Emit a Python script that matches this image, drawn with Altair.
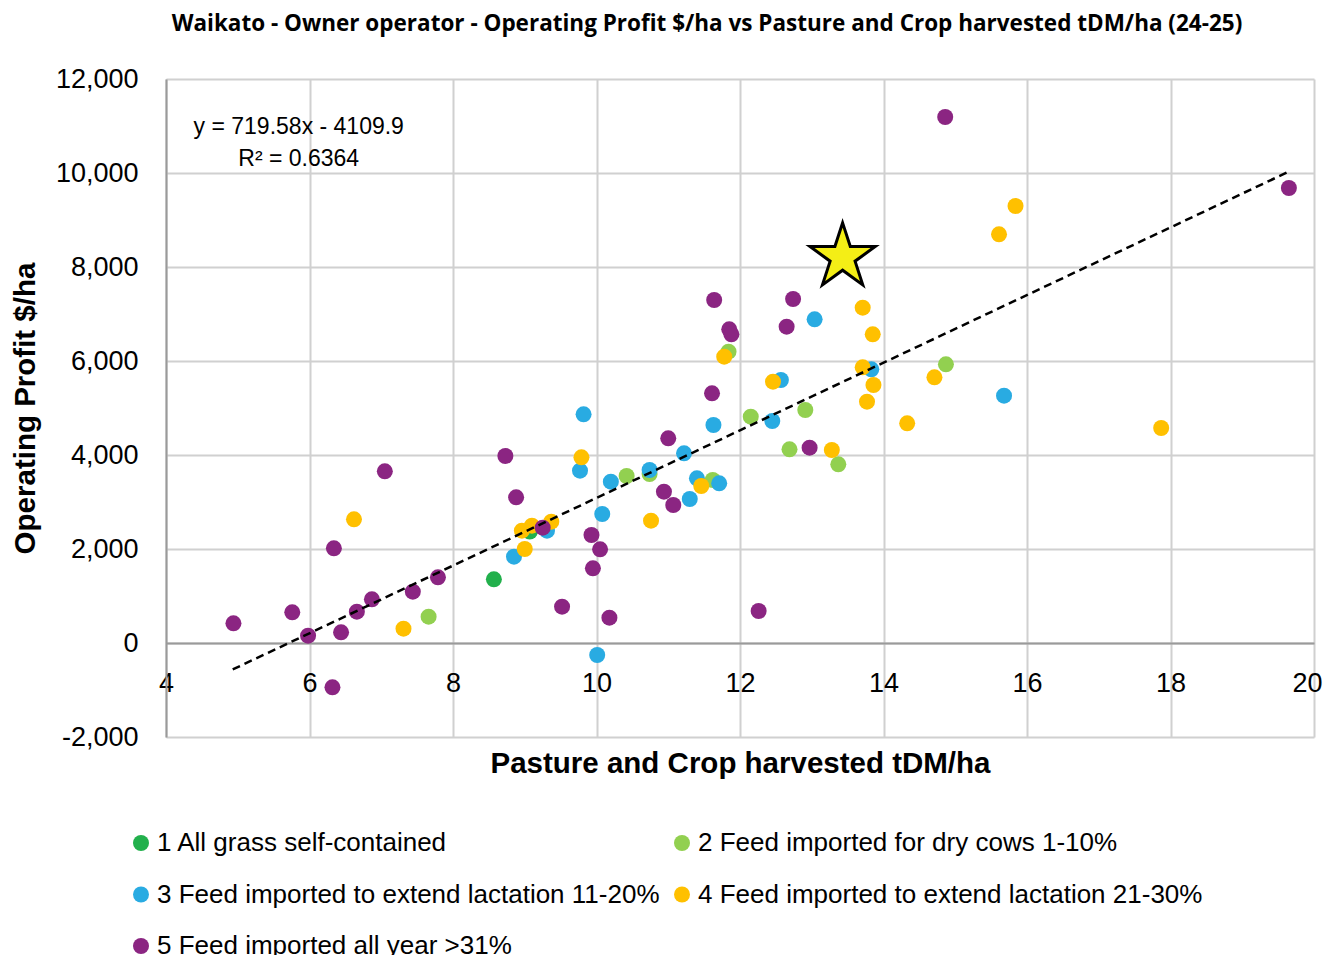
import altair as alt
import pandas as pd

# ---------------- data ----------------
groups = [
    "1 All grass self-contained",
    "2 Feed imported for dry cows 1-10%",
    "3 Feed imported to extend lactation 11-20%",
    "4 Feed imported to extend lactation 21-30%",
    "5 Feed imported all year >31%",
]
colors = ["#22b04c", "#92d050", "#29abe2", "#ffc000", "#8b2582"]
sizes = [256, 256, 256, 256, 350]

g1_x = [8.57, 9.07]
g1_y = [1355, 2370]

g2_x = [7.66, 10.42, 10.74, 11.62, 11.84, 12.15, 12.91, 12.69, 13.37, 14.87]
g2_y = [560, 3553, 3596, 3468, 6198, 4815, 4957, 4121, 3802, 5930]

g3_x = [8.85, 9.31, 9.82, 9.77, 10.01, 10.08, 10.20, 10.74, 11.22, 11.30,
        11.40, 11.71, 11.63, 13.04, 13.83, 12.57, 12.45, 15.68]
g3_y = [1837, 2390, 4865, 3666, -255, 2745, 3433, 3681, 4035, 3064,
        3504, 3397, 4638, 6887, 5823, 5596, 4723, 5262]

g4_x = [6.62, 7.31, 9.00, 8.96, 9.10, 9.37, 9.79, 10.76, 11.46, 11.78, 12.46,
        13.71, 13.85, 13.71, 13.86, 13.77, 13.28, 14.71, 14.33, 15.84, 15.61, 17.87]
g4_y = [2632, 305, 2000, 2390, 2496, 2582, 3951, 2603, 3340, 6092, 5560,
        7134, 6568, 5866, 5489, 5134, 4106, 5653, 4674, 9298, 8696, 4574]

g5_x = [4.94, 5.76, 5.98, 6.44, 6.66, 6.87, 7.44, 7.79, 6.34, 7.05, 6.32,
        8.73, 8.88, 9.25, 9.93, 10.05, 9.95, 9.52, 10.18, 11.00, 10.94, 11.07,
        11.61, 11.64, 11.85, 11.88, 12.74, 12.65, 12.97, 12.26, 14.86, 19.65]
g5_y = [419, 653, 155, 227, 667, 929, 1092, 1397, 2014, 3652, -943,
        3979, 3100, 2454, 2298, 1993, 1589, 773, 539, 4355, 3220, 2936,
        5312, 7298, 6674, 6568, 7319, 6730, 4155, 681, 11191, 9681]

star_x = [13.43]
star_y = [8210]

slope = 719.58
intercept = -4109.9
trend_x = [4.93, 19.68]

eq_lines = ["y = 719.58x - 4109.9", "R² = 0.6364"]
eq_x = [5.85, 5.85]
eq_y = [10979, 10298]

x_ticks = [4, 6, 8, 10, 12, 14, 16, 18, 20]
y_ticks = [-2000, 0, 2000, 4000, 6000, 8000, 10000, 12000]

title_text = "Waikato - Owner operator - Operating Profit $/ha vs Pasture and Crop harvested tDM/ha (24-25)"

# ---------------- tables ----------------
rows = []
for gi, (name, xs, ys) in enumerate(zip(groups, [g1_x, g2_x, g3_x, g4_x, g5_x],
                                         [g1_y, g2_y, g3_y, g4_y, g5_y])):
    for x, y in zip(xs, ys):
        rows.append({"x": x, "y": y, "group": name, "gi": gi})
df = pd.DataFrame(rows)

trend_df = pd.DataFrame({"x": trend_x, "y": [slope * v + intercept for v in trend_x]})
star_df = pd.DataFrame({"x": star_x, "y": star_y})
eq_df = pd.DataFrame({"x": eq_x, "y": eq_y, "t": eq_lines})

# legend is filled column by column: order so rows read 1|2, 3|4, 5
legend_order = [0, 2, 4, 1, 3]
dom = [groups[i] for i in legend_order]
rng = [colors[i] for i in legend_order]
srng = [sizes[i] for i in legend_order]

W, H = 1148, 658
FONT = "Liberation Sans"

x_scale = alt.Scale(domain=[4, 20], nice=False, zero=False)
y_scale = alt.Scale(domain=[-2000, 12000], nice=False, zero=False)

x_axis = alt.Axis(
    values=x_ticks, format="d", grid=True, gridColor="#d0d0d0", gridWidth=2,
    domainColor="#9a9a9a", domainWidth=2, ticks=False, offset=-94, labelFlush=False,
    labelOffset={"condition": {"test": "datum.value >= 20", "value": -7}, "value": 0},
    labelFont=FONT, labelFontSize=27, labelColor="#000000", labelPadding=27,
    title="Pasture and Crop harvested tDM/ha", titleFont=FONT, titleFontSize=29.5,
    titleFontWeight="bold", titleColor="#000000", titleX=W / 2, titleY=120,
    titleBaseline="middle", titleAlign="center",
)
y_axis = alt.Axis(
    values=y_ticks, grid=True, gridColor="#d0d0d0", gridWidth=2,
    labelExpr="datum.value < 0 ? '-' + format(-datum.value, ',.0f') : format(datum.value, ',.0f')",
    domainColor="#9a9a9a", domainWidth=2, ticks=False, labelFlush=False,
    labelFont=FONT, labelFontSize=27, labelColor="#000000", labelPadding=28,
    title="Operating Profit $/ha", titleFont=FONT, titleFontSize=29.5,
    titleFontWeight="bold", titleColor="#000000", titleX=-141, titleY=H / 2,
    titleAngle=-90, titleBaseline="middle", titleAlign="center",
)

legend = alt.Legend(
    title=None, orient="none", legendX=-38, legendY=751, columns=2,
    symbolType="circle", symbolSize=200, symbolStrokeWidth=0,
    labelFont=FONT, labelFontSize=26, labelColor="#000000", labelLimit=1000,
    labelOffset=3, rowPadding=25.5, columnPadding=9,
)

points = alt.Chart(df).mark_circle(opacity=1).encode(
    x=alt.X("x:Q", scale=x_scale, axis=x_axis),
    y=alt.Y("y:Q", scale=y_scale, axis=y_axis),
    color=alt.Color("group:N", scale=alt.Scale(domain=dom, range=rng), legend=legend),
    size=alt.Size("group:N", scale=alt.Scale(domain=dom, range=srng), legend=None),
    order=alt.Order("gi:Q"),
)

trend = alt.Chart(trend_df).mark_line(color="#000000", strokeWidth=2.5, strokeDash=[8, 5]).encode(
    x=alt.X("x:Q", scale=x_scale),
    y=alt.Y("y:Q", scale=y_scale),
)

star_path = ("M0,-1 L0.2245,-0.309 L0.9511,-0.309 L0.3633,0.118 L0.5878,0.809 "
             "L0,0.382 L-0.5878,0.809 L-0.3633,0.118 L-0.9511,-0.309 L-0.2245,-0.309 Z")
star = alt.Chart(star_df).mark_point(
    shape=star_path, filled=True, fill="#f4ee16", stroke="#000000", strokeWidth=3,
    size=4700, opacity=1, fillOpacity=1,
).encode(
    x=alt.X("x:Q", scale=x_scale),
    y=alt.Y("y:Q", scale=y_scale),
)

eq = alt.Chart(eq_df).mark_text(font=FONT, fontSize=23, color="#000000", align="center", baseline="middle").encode(
    x=alt.X("x:Q", scale=x_scale),
    y=alt.Y("y:Q", scale=y_scale),
    text="t:N",
)

chart = alt.layer(points, trend, star, eq).properties(
    width=W, height=H,
    autosize=alt.AutoSizeParams(type="none"),
    padding={"left": 158, "top": 71, "right": 10, "bottom": 218},
    title=alt.TitleParams(
        text=title_text, font="Open Sans", fontSize=22.5, fontWeight="bold",
        color="#000000", anchor="middle", dx=-33, offset=30,
    ),
).configure_view(stroke=None)

chart.save("out.html", embed_options={"renderer": "svg", "actions": False})
